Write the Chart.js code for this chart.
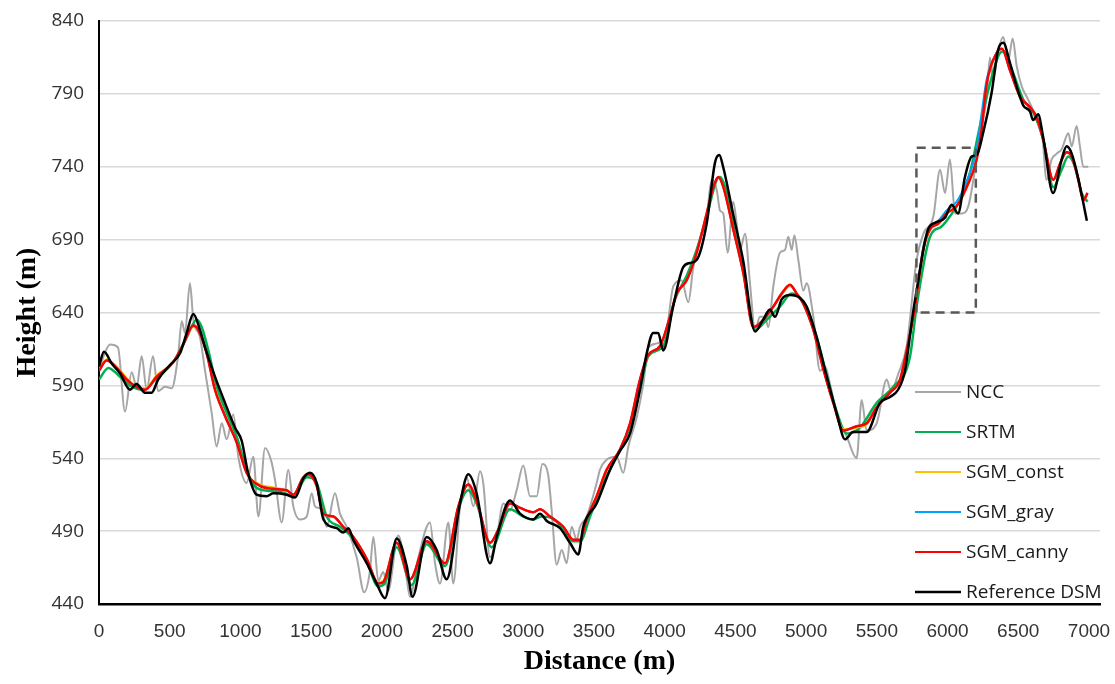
<!DOCTYPE html>
<html>
<head>
<meta charset="utf-8">
<script src="https://cdn.jsdelivr.net/npm/chart.js@4.4.1/dist/chart.umd.min.js"></script>
<style>
  html, body { margin: 0; padding: 0; background: #fff; }
  #wrap { width: 1115px; height: 684px; }
</style>
</head>
<body>
<div id="wrap"><canvas id="profileChart" width="1115" height="684"></canvas></div>
<script>
// distance (m) / height (m)
var nccDist = [0, 40, 78, 134, 184, 231, 266, 302, 337, 382,
    418, 467, 514, 559, 585, 608, 643, 667, 714, 750,
    797, 832, 868, 903, 950, 985, 1044, 1091, 1127, 1174,
    1221, 1245, 1292, 1339, 1374, 1421, 1469, 1504, 1527, 1575,
    1610, 1669, 1704, 1751, 1822, 1875, 1915, 1940, 1975, 2010,
    2044, 2116, 2164, 2199, 2258, 2340, 2376, 2411, 2470, 2505,
    2553, 2600, 2647, 2694, 2717, 2765, 2812, 2859, 2906, 2953,
    3000, 3048, 3095, 3135, 3177, 3201, 3236, 3272, 3307, 3342,
    3378, 3401, 3448, 3519, 3542, 3589, 3660, 3707, 3743, 3802,
    3849, 3884, 3954, 4014, 4061, 4120, 4167, 4202, 4249, 4297,
    4332, 4368, 4391, 4414, 4445, 4485, 4509, 4533, 4568, 4603,
    4639, 4674, 4709, 4733, 4768, 4815, 4851, 4874, 4898, 4917,
    4945, 4980, 5004, 5051, 5098, 5134, 5169, 5216, 5287, 5357,
    5393, 5428, 5499, 5570, 5600, 5652, 5711, 5781, 5829, 5900,
    5947, 5982, 6017, 6053, 6100, 6147, 6194, 6229, 6277, 6300,
    6323, 6359, 6394, 6430, 6460, 6489, 6525, 6560, 6595, 6630,
    6666, 6701, 6736, 6772, 6807, 6854, 6878, 6913, 6936, 6960,
    6995];
var nccHeight = [600, 612, 618, 616, 572, 599, 589, 610, 587, 610,
    586, 589, 588, 610, 634, 626, 660, 635, 623, 600,
    571, 548, 564, 553, 570, 541, 523, 541, 500, 547,
    537, 525, 496, 532, 507, 498, 500, 516, 507, 505,
    493, 516, 502, 493, 472, 448, 462, 486, 456, 462,
    449, 487, 466, 445, 472, 496, 468, 454, 496, 454,
    507, 527, 507, 531, 523, 472, 486, 509, 504, 518,
    535, 514, 514, 536, 528, 504, 467, 477, 468, 493,
    484, 493, 500, 523, 532, 539, 541, 530, 548, 568,
    591, 616, 619, 628, 658, 662, 647, 671, 690, 706,
    731, 724, 710, 708, 681, 716, 701, 683, 694, 660,
    628, 637, 637, 630, 658, 681, 683, 692, 683, 693,
    676, 655, 660, 637, 600, 603, 591, 570, 555, 540,
    580, 559, 564, 594, 586, 598, 617, 676, 694, 706,
    738, 722, 745, 708, 708, 713, 738, 761, 788, 815,
    800, 820, 829, 813, 828, 809, 795, 788, 781, 772,
    765, 731, 745, 749, 752, 763, 754, 768, 754, 740,
    740];

var srtmDist = [0, 66, 137, 219, 313, 408, 525, 620, 691, 726,
    773, 832, 903, 973, 1044, 1090, 1162, 1280, 1374, 1469,
    1539, 1610, 1704, 1798, 1893, 1975, 2020, 2105, 2211, 2317,
    2447, 2541, 2611, 2670, 2777, 2906, 3000, 3071, 3130, 3200,
    3283, 3354, 3401, 3472, 3566, 3660, 3755, 3825, 3884, 3990,
    4073, 4155, 4226, 4297, 4368, 4391, 4440, 4485, 4556, 4639,
    4721, 4815, 4898, 4957, 5004, 5075, 5146, 5216, 5287, 5381,
    5499, 5617, 5735, 5781, 5876, 5958, 6017, 6088, 6159, 6229,
    6300, 6371, 6395, 6465, 6536, 6607, 6678, 6748, 6807, 6854,
    6901, 6948, 6990];
var srtmHeight = [594, 602, 597, 590, 587, 595, 606, 623, 635, 630,
    614, 589, 571, 555, 532, 522, 518, 517, 514, 527,
    523, 500, 493, 485, 469, 452, 454, 479, 453, 481,
    466, 505, 518, 509, 479, 505, 500, 498, 500, 499,
    492, 483, 483, 500, 523, 541, 562, 587, 610, 617,
    649, 665, 683, 706, 731, 733, 722, 700, 668, 628,
    635, 644, 653, 650, 644, 623, 597, 572, 557, 561,
    578, 589, 610, 644, 692, 699, 706, 717, 736, 768,
    797, 818, 819, 804, 786, 777, 758, 726, 738, 747,
    740, 722, 716];

var sgmDist = [0, 54, 125, 196, 266, 325, 408, 525, 596, 667,
    702, 761, 820, 891, 973, 1044, 1138, 1232, 1327, 1374,
    1445, 1480, 1539, 1586, 1657, 1727, 1798, 1893, 1975, 2010,
    2105, 2199, 2317, 2447, 2541, 2611, 2670, 2765, 2823, 2906,
    2977, 3071, 3118, 3189, 3283, 3354, 3401, 3448, 3519, 3589,
    3684, 3755, 3825, 3884, 3967, 4037, 4085, 4155, 4226, 4297,
    4344, 4379, 4415, 4485, 4556, 4627, 4697, 4768, 4827, 4886,
    4933, 4980, 5051, 5122, 5192, 5263, 5357, 5428, 5499, 5593,
    5664, 5711, 5770, 5830, 5876, 5935, 5994, 6064, 6135, 6206,
    6240, 6277, 6347, 6383, 6442, 6513, 6583, 6630, 6678, 6748,
    6795, 6842, 6878, 6925, 6960, 6990];
var constHeight = [601, 608, 603, 595, 589, 588, 597, 606, 618, 630,
    628, 612, 588, 569, 551, 530, 522, 520, 518, 515,
    527, 529, 521, 502, 500, 493, 486, 471, 455, 456,
    482, 457, 483, 468, 507, 522, 511, 482, 491, 509,
    506, 503, 505, 500, 493, 484, 484, 498, 514, 532,
    546, 564, 593, 611, 617, 637, 653, 662, 681, 708,
    726, 733, 726, 697, 667, 630, 635, 644, 652, 658,
    653, 646, 628, 601, 578, 560, 561, 563, 575, 585,
    594, 613, 643, 683, 697, 701, 708, 713, 726, 746,
    766, 797, 818, 821, 806, 788, 781, 774, 758, 731,
    742, 750, 747, 731, 717, 721];
var grayHeight = [600, 607, 602, 594, 589, 587, 596, 606, 618, 631,
    628, 612, 587, 569, 551, 530, 521, 519, 518, 515,
    527, 529, 521, 502, 500, 493, 486, 471, 454, 455,
    482, 457, 483, 468, 507, 522, 511, 482, 491, 509,
    506, 503, 505, 500, 493, 484, 484, 498, 514, 532,
    546, 564, 594, 611, 617, 637, 653, 662, 681, 708,
    726, 733, 726, 697, 667, 630, 635, 644, 653, 659,
    653, 646, 628, 601, 578, 559, 562, 564, 575, 585,
    594, 614, 644, 686, 698, 703, 710, 716, 730, 752,
    776, 800, 818, 821, 806, 788, 781, 774, 758, 731,
    742, 750, 747, 731, 717, 722];
var cannyHeight = [600, 607, 602, 594, 589, 587, 596, 606, 618, 631,
    628, 612, 587, 569, 551, 530, 521, 519, 518, 515,
    527, 529, 521, 502, 500, 493, 486, 471, 454, 455,
    482, 457, 483, 468, 507, 522, 511, 482, 491, 509,
    506, 503, 505, 500, 493, 484, 484, 498, 514, 532,
    546, 564, 594, 611, 617, 637, 653, 662, 681, 708,
    726, 733, 726, 697, 667, 630, 635, 644, 653, 659,
    653, 646, 628, 601, 578, 559, 562, 564, 575, 585,
    594, 614, 644, 684, 697, 701, 708, 713, 726, 745,
    765, 797, 818, 821, 806, 788, 781, 774, 758, 731,
    742, 750, 747, 731, 717, 722];

var dsmDist = [0, 35, 90, 150, 219, 266, 325, 372, 418, 502,
    573, 620, 667, 714, 750, 820, 891, 962, 1009, 1054,
    1115, 1186, 1232, 1327, 1386, 1444, 1492, 1539, 1587, 1681,
    1727, 1763, 1798, 1893, 1963, 2022, 2105, 2176, 2216, 2317,
    2388, 2458, 2553, 2611, 2670, 2765, 2812, 2906, 2977, 3071,
    3118, 3166, 3260, 3330, 3389, 3424, 3519, 3613, 3684, 3755,
    3825, 3873, 3919, 3954, 3990, 4059, 4130, 4179, 4226, 4297,
    4356, 4386, 4413, 4483, 4554, 4639, 4696, 4744, 4780, 4827,
    4886, 4957, 5004, 5075, 5146, 5216, 5275, 5332, 5428, 5522,
    5593, 5650, 5699, 5756, 5781, 5862, 5923, 5982, 6029, 6074,
    6123, 6170, 6206, 6251, 6312, 6357, 6394, 6442, 6489, 6536,
    6583, 6605, 6640, 6675, 6746, 6807, 6842, 6878, 6922, 6985];
var dsmHeight = [603, 613, 605, 598, 587, 591, 585, 585, 594, 604,
    612, 626, 639, 628, 616, 596, 578, 561, 552, 530,
    515, 514, 516, 515, 513, 526, 530, 523, 498, 492,
    489, 492, 484, 468, 454, 444, 485, 466, 445, 486,
    477, 457, 509, 529, 516, 468, 486, 511, 502, 498,
    502, 497, 492, 482, 474, 493, 509, 532, 545, 557,
    587, 612, 626, 626, 614, 644, 671, 674, 676, 701,
    743, 748, 740, 708, 676, 627, 635, 642, 637, 649,
    652, 650, 644, 623, 596, 571, 553, 558, 558, 578,
    582, 587, 600, 640, 655, 697, 702, 705, 714, 708,
    733, 747, 748, 763, 791, 820, 825, 811, 795, 782,
    778, 772, 776, 761, 722, 745, 754, 749, 733, 703];

// dashed zoom box
var boxDist = [5780, 5780, 6200, 6200, 5780];
var boxHeight = [640, 753, 753, 640, 640];

var distanceTicks = [0, 500, 1000, 1500, 2000, 2500, 3000, 3500, 4000, 4500, 5000, 5500, 6000, 6500, 7000];
var heightTicks = [440, 490, 540, 590, 640, 690, 740, 790, 840];

var seriesNames = ["NCC", "SRTM", "SGM_const", "SGM_gray", "SGM_canny", "Reference DSM"];
var seriesColors = ["#a6a6a6", "#00b050", "#ffc000", "#00a2ff", "#ff0000", "#000000"];

function toPoints(dist, height) {
    return dist.map(function (d, i) {
        return { x: d, y: height[i] };
    });
}

function lineSet(idx, dist, height, width, order) {
    return {
        label: seriesNames[idx],
        data: toPoints(dist, height),
        borderColor: seriesColors[idx],
        backgroundColor: seriesColors[idx],
        borderWidth: width,
        showLine: true,
        pointRadius: 0,
        cubicInterpolationMode: "monotone",
        order: order
    };
}

var insideLegend = {
    id: "insideLegend",
    afterDraw: function (chart) {
        var c = chart.ctx;
        var a = chart.chartArea;
        c.save();
        c.font = '19px "Open Sans", sans-serif';
        c.textBaseline = "middle";
        c.textAlign = "left";
        seriesNames.forEach(function (name, i) {
            var y = a.bottom - 12 - (seriesNames.length - 1 - i) * 40;
            c.strokeStyle = seriesColors[i];
            c.lineWidth = i === 5 ? 2.5 : 2;
            c.beginPath();
            c.moveTo(a.right - 185, y);
            c.lineTo(a.right - 139, y);
            c.stroke();
            c.fillStyle = "#1a1a1a";
            c.fillText(name, a.right - 134, y + 1);
        });
        c.restore();
    }
};

var ctx = document.getElementById("profileChart").getContext("2d");
var profileChart = new Chart(ctx, {
    type: "scatter",
    data: {
        datasets: [
            lineSet(0, nccDist, nccHeight, 2, 7),
            lineSet(1, srtmDist, srtmHeight, 2.5, 6),
            lineSet(2, sgmDist, constHeight, 2, 5),
            lineSet(3, sgmDist, grayHeight, 2, 4),
            lineSet(4, sgmDist, cannyHeight, 2.5, 3),
            lineSet(5, dsmDist, dsmHeight, 2.5, 2),
            {
                label: "box",
                data: toPoints(boxDist, boxHeight),
                borderColor: "#595959",
                borderWidth: 2.5,
                borderDash: [9, 6],
                showLine: true,
                pointRadius: 0,
                tension: 0,
                order: 1
            }
        ]
    },
    options: {
        responsive: false,
        animation: false,
        layout: {
            padding: { top: 21, right: 15, left: 0, bottom: 0 }
        },
        plugins: {
            legend: { display: false },
            tooltip: { enabled: false }
        },
        scales: {
            x: {
                type: "linear",
                min: 0,
                max: 7078,
                afterBuildTicks: function (scale) {
                    scale.ticks = distanceTicks.map(function (v) {
                        return { value: v };
                    });
                },
                afterFit: function (scale) {
                    scale.height = 80;
                    scale.paddingLeft = 0;
                    scale.paddingRight = 0;
                },
                ticks: {
                    autoSkip: false,
                    maxRotation: 0,
                    padding: 16,
                    color: "#333333",
                    callback: function (value) {
                        return String(value);
                    },
                    font: { family: '"Liberation Sans Narrow", "Liberation Sans", sans-serif', size: 19 }
                },
                grid: { display: false, drawTicks: false },
                border: { display: true, color: "#000000", width: 2.5 },
                title: {
                    display: true,
                    text: "Distance (m)",
                    color: "#000000",
                    padding: { top: 0, bottom: 5 },
                    font: { family: '"Liberation Serif", "Times New Roman", serif', size: 28, weight: "bold" }
                }
            },
            y: {
                min: 440,
                max: 840,
                afterBuildTicks: function (scale) {
                    scale.ticks = heightTicks.map(function (v) {
                        return { value: v };
                    });
                },
                afterFit: function (scale) {
                    scale.width = 99;
                    scale.paddingTop = 0;
                    scale.paddingBottom = 0;
                },
                ticks: {
                    padding: 15,
                    color: "#333333",
                    font: { family: '"Open Sans", sans-serif', size: 19 }
                },
                grid: { color: "#d9d9d9", lineWidth: 1.5, drawTicks: false },
                border: { display: true, color: "#000000", width: 2 },
                title: {
                    display: true,
                    text: "Height (m)",
                    color: "#000000",
                    padding: { top: 11, bottom: 0 },
                    font: { family: '"Liberation Serif", "Times New Roman", serif', size: 28, weight: "bold" }
                }
            }
        }
    },
    plugins: [insideLegend]
});
</script>
</body>
</html>
